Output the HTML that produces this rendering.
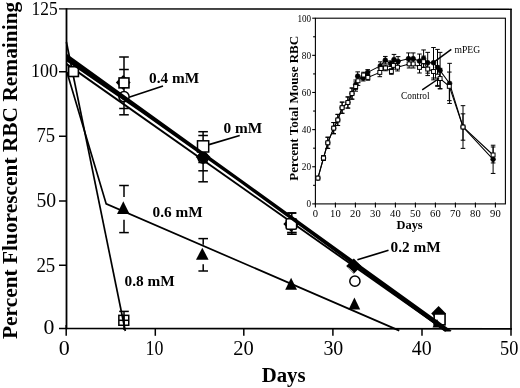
<!DOCTYPE html>
<html><head><meta charset="utf-8"><title>Percent Fluorescent RBC Remaining</title>
<style>html,body{margin:0;padding:0;background:#fff}body{width:520px;height:388px;overflow:hidden}svg{display:block;will-change:transform}text{font-family:"Liberation Serif","DejaVu Serif",serif;fill:#000}</style>
</head><body>
<svg width="520" height="388" viewBox="0 0 520 388">
<rect width="520" height="388" fill="#fff"/>
<g id="main-axes">
<line x1="66.50" y1="8.20" x2="66.50" y2="329.30" stroke="#000" stroke-width="1.8" />
<line x1="59.00" y1="8.80" x2="511.80" y2="9.30" stroke="#000" stroke-width="1.35" />
<line x1="511.00" y1="8.70" x2="511.00" y2="329.60" stroke="#000" stroke-width="1.6" />
<line x1="59.00" y1="328.50" x2="511.80" y2="328.90" stroke="#000" stroke-width="1.6" />
<text x="43.5" y="334.3" font-size="20" textLength="10.9" lengthAdjust="spacingAndGlyphs">0</text>
<line x1="59.00" y1="265.25" x2="66.40" y2="265.25" stroke="#000" stroke-width="1.5" />
<text x="36.4" y="271.6" font-size="20" textLength="18.9" lengthAdjust="spacingAndGlyphs">25</text>
<line x1="59.00" y1="201.00" x2="66.40" y2="201.00" stroke="#000" stroke-width="1.5" />
<text x="36.4" y="206.9" font-size="20.5" textLength="19.7" lengthAdjust="spacingAndGlyphs">50</text>
<line x1="59.00" y1="136.25" x2="66.40" y2="136.25" stroke="#000" stroke-width="1.5" />
<text x="36.4" y="142.4" font-size="20.5" textLength="18.7" lengthAdjust="spacingAndGlyphs">75</text>
<line x1="59.00" y1="71.75" x2="66.40" y2="71.75" stroke="#000" stroke-width="1.5" />
<text x="30.9" y="76.9" font-size="19.5" textLength="27.0" lengthAdjust="spacingAndGlyphs">100</text>
<text x="31.5" y="14.5" font-size="18.3" textLength="26.1" lengthAdjust="spacingAndGlyphs">125</text>
<line x1="66.20" y1="325.10" x2="66.20" y2="335.80" stroke="#000" stroke-width="1.5" />
<text x="58.8" y="354.9" font-size="20" textLength="11.0" lengthAdjust="spacingAndGlyphs">0</text>
<line x1="155.30" y1="328.60" x2="155.30" y2="335.80" stroke="#000" stroke-width="1.5" />
<text x="145.6" y="354.9" font-size="20" textLength="17.9" lengthAdjust="spacingAndGlyphs">10</text>
<line x1="243.80" y1="328.60" x2="243.80" y2="335.80" stroke="#000" stroke-width="1.5" />
<text x="233.2" y="354.9" font-size="20" textLength="20.5" lengthAdjust="spacingAndGlyphs">20</text>
<line x1="332.90" y1="328.60" x2="332.90" y2="335.80" stroke="#000" stroke-width="1.5" />
<text x="323.4" y="354.9" font-size="20" textLength="19.9" lengthAdjust="spacingAndGlyphs">30</text>
<line x1="422.00" y1="328.60" x2="422.00" y2="335.80" stroke="#000" stroke-width="1.5" />
<text x="411.7" y="354.9" font-size="20" textLength="19.9" lengthAdjust="spacingAndGlyphs">40</text>
<line x1="511.00" y1="328.60" x2="511.00" y2="335.80" stroke="#000" stroke-width="1.5" />
<text x="500.0" y="354.9" font-size="20" textLength="18.3" lengthAdjust="spacingAndGlyphs">50</text>
</g>
<text x="283.6" y="382.3" font-size="20.8" font-weight="bold" text-anchor="middle">Days</text>
<text transform="translate(17,170.4) rotate(-90)" font-size="21.4" font-weight="bold" text-anchor="middle">Percent Fluorescent RBC Remaining</text>
<g id="main-data">
<line x1="124.00" y1="57.00" x2="124.00" y2="114.80" stroke="#000" stroke-width="1.5" />
<line x1="119.20" y1="57.00" x2="128.80" y2="57.00" stroke="#000" stroke-width="1.5" />
<line x1="119.20" y1="114.80" x2="128.80" y2="114.80" stroke="#000" stroke-width="1.5" />
<line x1="119.20" y1="69.50" x2="128.80" y2="69.50" stroke="#000" stroke-width="1.5" />
<line x1="119.20" y1="108.50" x2="128.80" y2="108.50" stroke="#000" stroke-width="1.5" />
<line x1="203.10" y1="131.70" x2="203.10" y2="181.80" stroke="#000" stroke-width="1.5" />
<line x1="198.30" y1="131.70" x2="207.90" y2="131.70" stroke="#000" stroke-width="1.5" />
<line x1="198.30" y1="181.80" x2="207.90" y2="181.80" stroke="#000" stroke-width="1.5" />
<line x1="198.30" y1="135.50" x2="207.90" y2="135.50" stroke="#000" stroke-width="1.5" />
<line x1="198.30" y1="170.80" x2="207.90" y2="170.80" stroke="#000" stroke-width="1.5" />
<line x1="198.30" y1="162.50" x2="207.90" y2="162.50" stroke="#000" stroke-width="1.5" />
<line x1="291.80" y1="213.00" x2="291.80" y2="234.30" stroke="#000" stroke-width="1.5" />
<line x1="287.20" y1="213.00" x2="296.40" y2="213.00" stroke="#000" stroke-width="1.9" />
<line x1="287.10" y1="232.50" x2="296.70" y2="232.50" stroke="#000" stroke-width="1.6" />
<line x1="287.10" y1="234.20" x2="296.70" y2="234.20" stroke="#000" stroke-width="1.6" />
<line x1="124.00" y1="185.50" x2="124.00" y2="197.10" stroke="#000" stroke-width="1.5" />
<line x1="119.20" y1="185.50" x2="128.80" y2="185.50" stroke="#000" stroke-width="1.5" />
<line x1="124.00" y1="219.70" x2="124.00" y2="232.60" stroke="#000" stroke-width="1.5" />
<line x1="119.20" y1="232.60" x2="128.80" y2="232.60" stroke="#000" stroke-width="1.5" />
<line x1="203.20" y1="238.60" x2="203.20" y2="244.70" stroke="#000" stroke-width="1.5" />
<line x1="198.40" y1="238.60" x2="208.00" y2="238.60" stroke="#000" stroke-width="1.5" />
<line x1="203.20" y1="264.20" x2="203.20" y2="271.00" stroke="#000" stroke-width="1.5" />
<line x1="198.40" y1="271.00" x2="208.00" y2="271.00" stroke="#000" stroke-width="1.5" />
<line x1="124.00" y1="311.40" x2="124.00" y2="330.00" stroke="#000" stroke-width="1.5" />
<line x1="119.20" y1="311.40" x2="128.80" y2="311.40" stroke="#000" stroke-width="1.5" />
<line x1="66.40" y1="42.00" x2="125.30" y2="331.00" stroke="#000" stroke-width="1.7" />
<polyline points="66.9,72 106.2,203.9 399.3,330.6" fill="none" stroke="#000" stroke-width="1.7"/>
<circle cx="124.00" cy="96.70" r="5.1" fill="#fff" stroke="#000" stroke-width="1.5"/>
<circle cx="203.10" cy="158.00" r="5.1" fill="#fff" stroke="#000" stroke-width="1.5"/>
<circle cx="354.90" cy="281.20" r="5.1" fill="#fff" stroke="#000" stroke-width="1.5"/>
<line x1="66.40" y1="63.90" x2="446.00" y2="331.00" stroke="#000" stroke-width="1.9" />
<polygon points="123.20,75.10 130.60,82.50 123.20,89.90 115.80,82.50" fill="#000"/>
<polygon points="203.10,149.60 210.50,157.00 203.10,164.40 195.70,157.00" fill="#000"/>
<polygon points="291.20,216.20 299.10,224.10 291.20,232.00 283.30,224.10" fill="#000"/>
<polygon points="438.60,306.10 446.00,313.50 438.60,320.90 431.20,313.50" fill="#000"/>
<rect x="68.60" y="66.70" width="9.8" height="9.8" fill="#fff" stroke="#000" stroke-width="1.6"/>
<rect x="119.05" y="77.95" width="9.9" height="9.9" fill="#fff" stroke="#000" stroke-width="1.6"/>
<rect x="197.50" y="140.80" width="11.2" height="11.2" fill="#fff" stroke="#000" stroke-width="1.5"/>
<rect x="286.15" y="218.75" width="10.5" height="10.5" rx="1.6" fill="#fff" stroke="#000" stroke-width="1.6"/>
<rect x="434.15" y="313.95" width="10.9" height="10.9" fill="#fff" stroke="#000" stroke-width="1.6"/>
<polygon points="66.4,53.6 451.6,330.8 450.5,331.6 444.5,331.4 240,182.6 140,111.7 66.4,61.2" fill="#000"/>
<polygon points="353.80,258.50 361.40,266.10 353.80,273.70 346.20,266.10" fill="#000"/>
<line x1="348.3" y1="267.6" x2="353.6" y2="272.4" stroke="#fff" stroke-width="0.7"/>
<polygon points="123.30,201.30 117.00,214.10 129.60,214.10" fill="#000"/>
<polygon points="202.30,247.70 196.00,259.70 208.60,259.70" fill="#000"/>
<polygon points="291.10,277.70 285.20,289.70 297.00,289.70" fill="#000"/>
<polygon points="354.40,297.50 348.60,309.50 360.20,309.50" fill="#000"/>
<polygon points="437.00,319.00 432.50,327.50 441.50,327.50" fill="#000"/>
<rect x="118.85" y="315.35" width="9.9" height="9.9" fill="none" stroke="#000" stroke-width="1.5"/>
<line x1="118.85" y1="320.30" x2="128.75" y2="320.30" stroke="#000" stroke-width="1.5" />
<line x1="123.80" y1="315.35" x2="123.80" y2="325.25" stroke="#000" stroke-width="1.5" />
<text x="149" y="83" font-size="15.3" font-weight="bold">0.4 mM</text>
<line x1="129.00" y1="97.30" x2="163.00" y2="86.00" stroke="#000" stroke-width="1.7" />
<text x="223.5" y="133" font-size="15.3" font-weight="bold">0 mM</text>
<line x1="209.00" y1="144.60" x2="239.70" y2="135.50" stroke="#000" stroke-width="1.7" />
<text x="152.5" y="217" font-size="15.3" font-weight="bold">0.6 mM</text>
<text x="124.6" y="286.2" font-size="15.3" font-weight="bold">0.8 mM</text>
<text x="390.6" y="252" font-size="15.3" font-weight="bold">0.2 mM</text>
<line x1="357.40" y1="259.80" x2="388.50" y2="250.30" stroke="#000" stroke-width="1.7" />
</g>
<g id="inset">
<rect x="315.4" y="18.20" width="190.00" height="185.70" fill="#fff" stroke="#000" stroke-width="1.1"/>
<line x1="312.20" y1="203.90" x2="315.40" y2="203.90" stroke="#000" stroke-width="1.1" />
<text x="311.1" y="207.4" font-size="10.8" text-anchor="end" textLength="4.6" lengthAdjust="spacingAndGlyphs">0</text>
<line x1="313.10" y1="185.33" x2="315.40" y2="185.33" stroke="#000" stroke-width="1.1" />
<line x1="312.20" y1="166.76" x2="315.40" y2="166.76" stroke="#000" stroke-width="1.1" />
<text x="311.1" y="170.3" font-size="10.8" text-anchor="end" textLength="9.3" lengthAdjust="spacingAndGlyphs">20</text>
<line x1="313.10" y1="148.19" x2="315.40" y2="148.19" stroke="#000" stroke-width="1.1" />
<line x1="312.20" y1="129.62" x2="315.40" y2="129.62" stroke="#000" stroke-width="1.1" />
<text x="311.1" y="133.1" font-size="10.8" text-anchor="end" textLength="9.3" lengthAdjust="spacingAndGlyphs">40</text>
<line x1="313.10" y1="111.05" x2="315.40" y2="111.05" stroke="#000" stroke-width="1.1" />
<line x1="312.20" y1="92.48" x2="315.40" y2="92.48" stroke="#000" stroke-width="1.1" />
<text x="311.1" y="96.0" font-size="10.8" text-anchor="end" textLength="9.3" lengthAdjust="spacingAndGlyphs">60</text>
<line x1="313.10" y1="73.91" x2="315.40" y2="73.91" stroke="#000" stroke-width="1.1" />
<line x1="312.20" y1="55.34" x2="315.40" y2="55.34" stroke="#000" stroke-width="1.1" />
<text x="311.1" y="58.8" font-size="10.8" text-anchor="end" textLength="9.3" lengthAdjust="spacingAndGlyphs">80</text>
<line x1="313.10" y1="36.77" x2="315.40" y2="36.77" stroke="#000" stroke-width="1.1" />
<line x1="312.20" y1="18.20" x2="315.40" y2="18.20" stroke="#000" stroke-width="1.1" />
<text x="311.1" y="21.7" font-size="10.8" text-anchor="end" textLength="13.7" lengthAdjust="spacingAndGlyphs">100</text>
<line x1="315.40" y1="202.40" x2="315.40" y2="207.40" stroke="#000" stroke-width="1.1" />
<text x="315.4" y="217.4" font-size="10.6" text-anchor="middle">0</text>
<line x1="335.40" y1="202.40" x2="335.40" y2="207.40" stroke="#000" stroke-width="1.1" />
<text x="335.4" y="217.4" font-size="10.6" text-anchor="middle">10</text>
<line x1="355.40" y1="202.40" x2="355.40" y2="207.40" stroke="#000" stroke-width="1.1" />
<text x="355.4" y="217.4" font-size="10.6" text-anchor="middle">20</text>
<line x1="375.40" y1="202.40" x2="375.40" y2="207.40" stroke="#000" stroke-width="1.1" />
<text x="375.4" y="217.4" font-size="10.6" text-anchor="middle">30</text>
<line x1="395.40" y1="202.40" x2="395.40" y2="207.40" stroke="#000" stroke-width="1.1" />
<text x="395.4" y="217.4" font-size="10.6" text-anchor="middle">40</text>
<line x1="415.40" y1="202.40" x2="415.40" y2="207.40" stroke="#000" stroke-width="1.1" />
<text x="415.4" y="217.4" font-size="10.6" text-anchor="middle">50</text>
<line x1="435.40" y1="202.40" x2="435.40" y2="207.40" stroke="#000" stroke-width="1.1" />
<text x="435.4" y="217.4" font-size="10.6" text-anchor="middle">60</text>
<line x1="455.40" y1="202.40" x2="455.40" y2="207.40" stroke="#000" stroke-width="1.1" />
<text x="455.4" y="217.4" font-size="10.6" text-anchor="middle">70</text>
<line x1="475.40" y1="202.40" x2="475.40" y2="207.40" stroke="#000" stroke-width="1.1" />
<text x="475.4" y="217.4" font-size="10.6" text-anchor="middle">80</text>
<line x1="495.40" y1="202.40" x2="495.40" y2="207.40" stroke="#000" stroke-width="1.1" />
<text x="495.4" y="217.4" font-size="10.6" text-anchor="middle">90</text>
<text x="409.6" y="229.3" font-size="12.4" font-weight="bold" text-anchor="middle">Days</text>
<text transform="translate(297.6,108.3) rotate(-90)" font-size="13.05" font-weight="bold" text-anchor="middle">Percent Total Mouse RBC</text>
<line x1="323.50" y1="155.80" x2="323.50" y2="160.26" stroke="#000" stroke-width="1.0" />
<line x1="321.20" y1="155.80" x2="325.80" y2="155.80" stroke="#000" stroke-width="1.0" />
<line x1="321.20" y1="160.26" x2="325.80" y2="160.26" stroke="#000" stroke-width="1.0" />
<line x1="327.80" y1="137.23" x2="327.80" y2="148.38" stroke="#000" stroke-width="1.0" />
<line x1="325.50" y1="137.23" x2="330.10" y2="137.23" stroke="#000" stroke-width="1.0" />
<line x1="325.50" y1="148.38" x2="330.10" y2="148.38" stroke="#000" stroke-width="1.0" />
<line x1="333.70" y1="122.56" x2="333.70" y2="133.71" stroke="#000" stroke-width="1.0" />
<line x1="331.40" y1="122.56" x2="336.00" y2="122.56" stroke="#000" stroke-width="1.0" />
<line x1="331.40" y1="133.71" x2="336.00" y2="133.71" stroke="#000" stroke-width="1.0" />
<line x1="337.80" y1="114.39" x2="337.80" y2="125.53" stroke="#000" stroke-width="1.0" />
<line x1="335.50" y1="114.39" x2="340.10" y2="114.39" stroke="#000" stroke-width="1.0" />
<line x1="335.50" y1="125.53" x2="340.10" y2="125.53" stroke="#000" stroke-width="1.0" />
<line x1="342.10" y1="102.14" x2="342.10" y2="113.28" stroke="#000" stroke-width="1.0" />
<line x1="339.80" y1="102.14" x2="344.40" y2="102.14" stroke="#000" stroke-width="1.0" />
<line x1="339.80" y1="113.28" x2="344.40" y2="113.28" stroke="#000" stroke-width="1.0" />
<line x1="347.90" y1="96.94" x2="347.90" y2="108.08" stroke="#000" stroke-width="1.0" />
<line x1="345.60" y1="96.94" x2="350.20" y2="96.94" stroke="#000" stroke-width="1.0" />
<line x1="345.60" y1="108.08" x2="350.20" y2="108.08" stroke="#000" stroke-width="1.0" />
<line x1="352.00" y1="88.02" x2="352.00" y2="99.17" stroke="#000" stroke-width="1.0" />
<line x1="349.70" y1="88.02" x2="354.30" y2="88.02" stroke="#000" stroke-width="1.0" />
<line x1="349.70" y1="99.17" x2="354.30" y2="99.17" stroke="#000" stroke-width="1.0" />
<line x1="355.70" y1="81.90" x2="355.70" y2="91.18" stroke="#000" stroke-width="1.0" />
<line x1="353.40" y1="81.90" x2="358.00" y2="81.90" stroke="#000" stroke-width="1.0" />
<line x1="353.40" y1="91.18" x2="358.00" y2="91.18" stroke="#000" stroke-width="1.0" />
<line x1="358.00" y1="76.14" x2="358.00" y2="85.42" stroke="#000" stroke-width="1.0" />
<line x1="355.70" y1="76.14" x2="360.30" y2="76.14" stroke="#000" stroke-width="1.0" />
<line x1="355.70" y1="85.42" x2="360.30" y2="85.42" stroke="#000" stroke-width="1.0" />
<line x1="363.60" y1="72.24" x2="363.60" y2="77.81" stroke="#000" stroke-width="1.0" />
<line x1="361.30" y1="72.24" x2="365.90" y2="72.24" stroke="#000" stroke-width="1.0" />
<line x1="361.30" y1="77.81" x2="365.90" y2="77.81" stroke="#000" stroke-width="1.0" />
<line x1="367.90" y1="74.65" x2="367.90" y2="80.22" stroke="#000" stroke-width="1.0" />
<line x1="365.60" y1="74.65" x2="370.20" y2="74.65" stroke="#000" stroke-width="1.0" />
<line x1="365.60" y1="80.22" x2="370.20" y2="80.22" stroke="#000" stroke-width="1.0" />
<line x1="379.80" y1="68.15" x2="379.80" y2="76.70" stroke="#000" stroke-width="1.0" />
<line x1="377.50" y1="68.15" x2="382.10" y2="68.15" stroke="#000" stroke-width="1.0" />
<line x1="377.50" y1="76.70" x2="382.10" y2="76.70" stroke="#000" stroke-width="1.0" />
<line x1="385.50" y1="65.18" x2="385.50" y2="70.75" stroke="#000" stroke-width="1.0" />
<line x1="383.20" y1="65.18" x2="387.80" y2="65.18" stroke="#000" stroke-width="1.0" />
<line x1="383.20" y1="70.75" x2="387.80" y2="70.75" stroke="#000" stroke-width="1.0" />
<line x1="391.40" y1="68.71" x2="391.40" y2="74.28" stroke="#000" stroke-width="1.0" />
<line x1="389.10" y1="68.71" x2="393.70" y2="68.71" stroke="#000" stroke-width="1.0" />
<line x1="389.10" y1="74.28" x2="393.70" y2="74.28" stroke="#000" stroke-width="1.0" />
<line x1="393.40" y1="61.65" x2="393.40" y2="69.08" stroke="#000" stroke-width="1.0" />
<line x1="391.10" y1="61.65" x2="395.70" y2="61.65" stroke="#000" stroke-width="1.0" />
<line x1="391.10" y1="69.08" x2="395.70" y2="69.08" stroke="#000" stroke-width="1.0" />
<line x1="397.50" y1="63.51" x2="397.50" y2="70.94" stroke="#000" stroke-width="1.0" />
<line x1="395.20" y1="63.51" x2="399.80" y2="63.51" stroke="#000" stroke-width="1.0" />
<line x1="395.20" y1="70.94" x2="399.80" y2="70.94" stroke="#000" stroke-width="1.0" />
<line x1="409.10" y1="59.80" x2="409.10" y2="67.97" stroke="#000" stroke-width="1.0" />
<line x1="406.80" y1="59.80" x2="411.40" y2="59.80" stroke="#000" stroke-width="1.0" />
<line x1="406.80" y1="67.97" x2="411.40" y2="67.97" stroke="#000" stroke-width="1.0" />
<line x1="413.20" y1="59.80" x2="413.20" y2="67.97" stroke="#000" stroke-width="1.0" />
<line x1="410.90" y1="59.80" x2="415.50" y2="59.80" stroke="#000" stroke-width="1.0" />
<line x1="410.90" y1="67.97" x2="415.50" y2="67.97" stroke="#000" stroke-width="1.0" />
<line x1="419.50" y1="61.84" x2="419.50" y2="72.98" stroke="#000" stroke-width="1.0" />
<line x1="417.20" y1="61.84" x2="421.80" y2="61.84" stroke="#000" stroke-width="1.0" />
<line x1="417.20" y1="72.98" x2="421.80" y2="72.98" stroke="#000" stroke-width="1.0" />
<line x1="423.60" y1="56.08" x2="423.60" y2="67.22" stroke="#000" stroke-width="1.0" />
<line x1="421.30" y1="56.08" x2="425.90" y2="56.08" stroke="#000" stroke-width="1.0" />
<line x1="421.30" y1="67.22" x2="425.90" y2="67.22" stroke="#000" stroke-width="1.0" />
<line x1="427.70" y1="62.58" x2="427.70" y2="75.58" stroke="#000" stroke-width="1.0" />
<line x1="425.40" y1="62.58" x2="430.00" y2="62.58" stroke="#000" stroke-width="1.0" />
<line x1="425.40" y1="75.58" x2="430.00" y2="75.58" stroke="#000" stroke-width="1.0" />
<line x1="433.50" y1="63.14" x2="433.50" y2="79.85" stroke="#000" stroke-width="1.0" />
<line x1="431.20" y1="63.14" x2="435.80" y2="63.14" stroke="#000" stroke-width="1.0" />
<line x1="431.20" y1="79.85" x2="435.80" y2="79.85" stroke="#000" stroke-width="1.0" />
<line x1="437.50" y1="65.92" x2="437.50" y2="86.35" stroke="#000" stroke-width="1.0" />
<line x1="435.20" y1="65.92" x2="439.80" y2="65.92" stroke="#000" stroke-width="1.0" />
<line x1="435.20" y1="86.35" x2="439.80" y2="86.35" stroke="#000" stroke-width="1.0" />
<line x1="440.10" y1="68.34" x2="440.10" y2="88.77" stroke="#000" stroke-width="1.0" />
<line x1="437.80" y1="68.34" x2="442.40" y2="68.34" stroke="#000" stroke-width="1.0" />
<line x1="437.80" y1="88.77" x2="442.40" y2="88.77" stroke="#000" stroke-width="1.0" />
<line x1="449.30" y1="72.05" x2="449.30" y2="100.65" stroke="#000" stroke-width="1.0" />
<line x1="447.00" y1="72.05" x2="451.60" y2="72.05" stroke="#000" stroke-width="1.0" />
<line x1="447.00" y1="100.65" x2="451.60" y2="100.65" stroke="#000" stroke-width="1.0" />
<line x1="463.00" y1="113.84" x2="463.00" y2="140.20" stroke="#000" stroke-width="1.0" />
<line x1="460.70" y1="113.84" x2="465.30" y2="113.84" stroke="#000" stroke-width="1.0" />
<line x1="460.70" y1="140.20" x2="465.30" y2="140.20" stroke="#000" stroke-width="1.0" />
<line x1="493.10" y1="146.98" x2="493.10" y2="162.95" stroke="#000" stroke-width="1.0" />
<line x1="490.80" y1="146.98" x2="495.40" y2="146.98" stroke="#000" stroke-width="1.0" />
<line x1="490.80" y1="162.95" x2="495.40" y2="162.95" stroke="#000" stroke-width="1.0" />
<line x1="323.50" y1="155.80" x2="323.50" y2="160.26" stroke="#000" stroke-width="1.0" />
<line x1="321.20" y1="155.80" x2="325.80" y2="155.80" stroke="#000" stroke-width="1.0" />
<line x1="321.20" y1="160.26" x2="325.80" y2="160.26" stroke="#000" stroke-width="1.0" />
<line x1="327.80" y1="137.23" x2="327.80" y2="148.38" stroke="#000" stroke-width="1.0" />
<line x1="325.50" y1="137.23" x2="330.10" y2="137.23" stroke="#000" stroke-width="1.0" />
<line x1="325.50" y1="148.38" x2="330.10" y2="148.38" stroke="#000" stroke-width="1.0" />
<line x1="333.70" y1="122.56" x2="333.70" y2="133.71" stroke="#000" stroke-width="1.0" />
<line x1="331.40" y1="122.56" x2="336.00" y2="122.56" stroke="#000" stroke-width="1.0" />
<line x1="331.40" y1="133.71" x2="336.00" y2="133.71" stroke="#000" stroke-width="1.0" />
<line x1="337.80" y1="114.39" x2="337.80" y2="125.53" stroke="#000" stroke-width="1.0" />
<line x1="335.50" y1="114.39" x2="340.10" y2="114.39" stroke="#000" stroke-width="1.0" />
<line x1="335.50" y1="125.53" x2="340.10" y2="125.53" stroke="#000" stroke-width="1.0" />
<line x1="342.10" y1="102.14" x2="342.10" y2="113.28" stroke="#000" stroke-width="1.0" />
<line x1="339.80" y1="102.14" x2="344.40" y2="102.14" stroke="#000" stroke-width="1.0" />
<line x1="339.80" y1="113.28" x2="344.40" y2="113.28" stroke="#000" stroke-width="1.0" />
<line x1="347.90" y1="96.94" x2="347.90" y2="108.08" stroke="#000" stroke-width="1.0" />
<line x1="345.60" y1="96.94" x2="350.20" y2="96.94" stroke="#000" stroke-width="1.0" />
<line x1="345.60" y1="108.08" x2="350.20" y2="108.08" stroke="#000" stroke-width="1.0" />
<line x1="352.00" y1="88.02" x2="352.00" y2="99.17" stroke="#000" stroke-width="1.0" />
<line x1="349.70" y1="88.02" x2="354.30" y2="88.02" stroke="#000" stroke-width="1.0" />
<line x1="349.70" y1="99.17" x2="354.30" y2="99.17" stroke="#000" stroke-width="1.0" />
<line x1="355.70" y1="80.04" x2="355.70" y2="89.32" stroke="#000" stroke-width="1.0" />
<line x1="353.40" y1="80.04" x2="358.00" y2="80.04" stroke="#000" stroke-width="1.0" />
<line x1="353.40" y1="89.32" x2="358.00" y2="89.32" stroke="#000" stroke-width="1.0" />
<line x1="357.70" y1="71.87" x2="357.70" y2="80.41" stroke="#000" stroke-width="1.0" />
<line x1="355.40" y1="71.87" x2="360.00" y2="71.87" stroke="#000" stroke-width="1.0" />
<line x1="355.40" y1="80.41" x2="360.00" y2="80.41" stroke="#000" stroke-width="1.0" />
<line x1="363.20" y1="75.40" x2="363.20" y2="80.97" stroke="#000" stroke-width="1.0" />
<line x1="360.90" y1="75.40" x2="365.50" y2="75.40" stroke="#000" stroke-width="1.0" />
<line x1="360.90" y1="80.97" x2="365.50" y2="80.97" stroke="#000" stroke-width="1.0" />
<line x1="367.70" y1="69.64" x2="367.70" y2="75.21" stroke="#000" stroke-width="1.0" />
<line x1="365.40" y1="69.64" x2="370.00" y2="69.64" stroke="#000" stroke-width="1.0" />
<line x1="365.40" y1="75.21" x2="370.00" y2="75.21" stroke="#000" stroke-width="1.0" />
<line x1="380.30" y1="61.84" x2="380.30" y2="70.01" stroke="#000" stroke-width="1.0" />
<line x1="378.00" y1="61.84" x2="382.60" y2="61.84" stroke="#000" stroke-width="1.0" />
<line x1="378.00" y1="70.01" x2="382.60" y2="70.01" stroke="#000" stroke-width="1.0" />
<line x1="385.30" y1="56.45" x2="385.30" y2="63.88" stroke="#000" stroke-width="1.0" />
<line x1="383.00" y1="56.45" x2="387.60" y2="56.45" stroke="#000" stroke-width="1.0" />
<line x1="383.00" y1="63.88" x2="387.60" y2="63.88" stroke="#000" stroke-width="1.0" />
<line x1="390.60" y1="60.91" x2="390.60" y2="66.48" stroke="#000" stroke-width="1.0" />
<line x1="388.30" y1="60.91" x2="392.90" y2="60.91" stroke="#000" stroke-width="1.0" />
<line x1="388.30" y1="66.48" x2="392.90" y2="66.48" stroke="#000" stroke-width="1.0" />
<line x1="394.00" y1="54.41" x2="394.00" y2="64.81" stroke="#000" stroke-width="1.0" />
<line x1="391.70" y1="54.41" x2="396.30" y2="54.41" stroke="#000" stroke-width="1.0" />
<line x1="391.70" y1="64.81" x2="396.30" y2="64.81" stroke="#000" stroke-width="1.0" />
<line x1="398.10" y1="56.64" x2="398.10" y2="65.92" stroke="#000" stroke-width="1.0" />
<line x1="395.80" y1="56.64" x2="400.40" y2="56.64" stroke="#000" stroke-width="1.0" />
<line x1="395.80" y1="65.92" x2="400.40" y2="65.92" stroke="#000" stroke-width="1.0" />
<line x1="408.50" y1="52.93" x2="408.50" y2="64.44" stroke="#000" stroke-width="1.0" />
<line x1="406.20" y1="52.93" x2="410.80" y2="52.93" stroke="#000" stroke-width="1.0" />
<line x1="406.20" y1="64.44" x2="410.80" y2="64.44" stroke="#000" stroke-width="1.0" />
<line x1="413.20" y1="52.93" x2="413.20" y2="64.44" stroke="#000" stroke-width="1.0" />
<line x1="410.90" y1="52.93" x2="415.50" y2="52.93" stroke="#000" stroke-width="1.0" />
<line x1="410.90" y1="64.44" x2="415.50" y2="64.44" stroke="#000" stroke-width="1.0" />
<line x1="419.50" y1="54.04" x2="419.50" y2="68.15" stroke="#000" stroke-width="1.0" />
<line x1="417.20" y1="54.04" x2="421.80" y2="54.04" stroke="#000" stroke-width="1.0" />
<line x1="417.20" y1="68.15" x2="421.80" y2="68.15" stroke="#000" stroke-width="1.0" />
<line x1="423.60" y1="49.95" x2="423.60" y2="67.41" stroke="#000" stroke-width="1.0" />
<line x1="421.30" y1="49.95" x2="425.90" y2="49.95" stroke="#000" stroke-width="1.0" />
<line x1="421.30" y1="67.41" x2="425.90" y2="67.41" stroke="#000" stroke-width="1.0" />
<line x1="427.70" y1="52.37" x2="427.70" y2="73.17" stroke="#000" stroke-width="1.0" />
<line x1="425.40" y1="52.37" x2="430.00" y2="52.37" stroke="#000" stroke-width="1.0" />
<line x1="425.40" y1="73.17" x2="430.00" y2="73.17" stroke="#000" stroke-width="1.0" />
<line x1="433.50" y1="47.54" x2="433.50" y2="78.00" stroke="#000" stroke-width="1.0" />
<line x1="431.20" y1="47.54" x2="435.80" y2="47.54" stroke="#000" stroke-width="1.0" />
<line x1="431.20" y1="78.00" x2="435.80" y2="78.00" stroke="#000" stroke-width="1.0" />
<line x1="437.50" y1="49.40" x2="437.50" y2="85.42" stroke="#000" stroke-width="1.0" />
<line x1="435.20" y1="49.40" x2="439.80" y2="49.40" stroke="#000" stroke-width="1.0" />
<line x1="435.20" y1="85.42" x2="439.80" y2="85.42" stroke="#000" stroke-width="1.0" />
<line x1="440.10" y1="52.37" x2="440.10" y2="88.77" stroke="#000" stroke-width="1.0" />
<line x1="437.80" y1="52.37" x2="442.40" y2="52.37" stroke="#000" stroke-width="1.0" />
<line x1="437.80" y1="88.77" x2="442.40" y2="88.77" stroke="#000" stroke-width="1.0" />
<line x1="449.60" y1="63.33" x2="449.60" y2="103.44" stroke="#000" stroke-width="1.0" />
<line x1="447.30" y1="63.33" x2="451.90" y2="63.33" stroke="#000" stroke-width="1.0" />
<line x1="447.30" y1="103.44" x2="451.90" y2="103.44" stroke="#000" stroke-width="1.0" />
<line x1="463.00" y1="105.66" x2="463.00" y2="148.38" stroke="#000" stroke-width="1.0" />
<line x1="460.70" y1="105.66" x2="465.30" y2="105.66" stroke="#000" stroke-width="1.0" />
<line x1="460.70" y1="148.38" x2="465.30" y2="148.38" stroke="#000" stroke-width="1.0" />
<line x1="493.10" y1="145.22" x2="493.10" y2="173.45" stroke="#000" stroke-width="1.0" />
<line x1="490.80" y1="145.22" x2="495.40" y2="145.22" stroke="#000" stroke-width="1.0" />
<line x1="490.80" y1="173.45" x2="495.40" y2="173.45" stroke="#000" stroke-width="1.0" />
<polyline fill="none" stroke="#000" stroke-width="1.05" points="317.9,178.1 323.5,158.0 327.8,142.8 333.7,128.1 337.8,120.0 342.1,107.7 347.9,102.5 352.0,93.6 355.7,84.7 357.7,76.1 363.2,78.2 367.7,72.4 380.3,65.9 385.3,60.2 390.6,63.7 394.0,59.6 398.1,61.3 408.5,58.7 413.2,58.7 419.5,61.1 423.6,58.7 427.7,62.8 433.5,62.8 437.5,67.4 440.1,70.6 449.6,83.4 463.0,127.0 493.1,159.3"/>
<polyline fill="none" stroke="#000" stroke-width="1.05" points="317.9,178.1 323.5,158.0 327.8,142.8 333.7,128.1 337.8,120.0 342.1,107.7 347.9,102.5 352.0,93.6 355.7,86.5 358.0,80.8 363.6,75.0 367.9,77.4 379.8,72.4 381.0,68.5 385.5,68.0 391.4,71.5 393.4,65.4 397.5,67.2 409.1,63.9 413.2,63.9 419.5,67.4 423.6,61.7 427.7,69.1 433.5,71.5 437.5,76.1 440.1,78.6 449.3,86.4 463.0,127.0 493.1,155.0"/>
<circle cx="317.90" cy="178.09" r="2.4" fill="#000" stroke="#000" stroke-width="0.6"/>
<circle cx="323.50" cy="158.03" r="2.4" fill="#000" stroke="#000" stroke-width="0.6"/>
<circle cx="327.80" cy="142.80" r="2.4" fill="#000" stroke="#000" stroke-width="0.6"/>
<circle cx="333.70" cy="128.13" r="2.4" fill="#000" stroke="#000" stroke-width="0.6"/>
<circle cx="337.80" cy="119.96" r="2.4" fill="#000" stroke="#000" stroke-width="0.6"/>
<circle cx="342.10" cy="107.71" r="2.4" fill="#000" stroke="#000" stroke-width="0.6"/>
<circle cx="347.90" cy="102.51" r="2.4" fill="#000" stroke="#000" stroke-width="0.6"/>
<circle cx="352.00" cy="93.59" r="2.4" fill="#000" stroke="#000" stroke-width="0.6"/>
<circle cx="355.70" cy="84.68" r="2.4" fill="#000" stroke="#000" stroke-width="0.6"/>
<circle cx="357.70" cy="76.14" r="2.4" fill="#000" stroke="#000" stroke-width="0.6"/>
<circle cx="363.20" cy="78.18" r="2.4" fill="#000" stroke="#000" stroke-width="0.6"/>
<circle cx="367.70" cy="72.42" r="2.4" fill="#000" stroke="#000" stroke-width="0.6"/>
<circle cx="380.30" cy="65.92" r="2.4" fill="#000" stroke="#000" stroke-width="0.6"/>
<circle cx="385.30" cy="60.17" r="2.4" fill="#000" stroke="#000" stroke-width="0.6"/>
<circle cx="390.60" cy="63.70" r="2.4" fill="#000" stroke="#000" stroke-width="0.6"/>
<circle cx="394.00" cy="59.61" r="2.4" fill="#000" stroke="#000" stroke-width="0.6"/>
<circle cx="398.10" cy="61.28" r="2.4" fill="#000" stroke="#000" stroke-width="0.6"/>
<circle cx="408.50" cy="58.68" r="2.4" fill="#000" stroke="#000" stroke-width="0.6"/>
<circle cx="413.20" cy="58.68" r="2.4" fill="#000" stroke="#000" stroke-width="0.6"/>
<circle cx="419.50" cy="61.10" r="2.4" fill="#000" stroke="#000" stroke-width="0.6"/>
<circle cx="423.60" cy="58.68" r="2.4" fill="#000" stroke="#000" stroke-width="0.6"/>
<circle cx="427.70" cy="62.77" r="2.4" fill="#000" stroke="#000" stroke-width="0.6"/>
<circle cx="433.50" cy="62.77" r="2.4" fill="#000" stroke="#000" stroke-width="0.6"/>
<circle cx="437.50" cy="67.41" r="2.4" fill="#000" stroke="#000" stroke-width="0.6"/>
<circle cx="440.10" cy="70.57" r="2.4" fill="#000" stroke="#000" stroke-width="0.6"/>
<circle cx="449.60" cy="83.38" r="2.4" fill="#000" stroke="#000" stroke-width="0.6"/>
<circle cx="463.00" cy="127.02" r="2.4" fill="#000" stroke="#000" stroke-width="0.6"/>
<circle cx="493.10" cy="159.33" r="2.4" fill="#000" stroke="#000" stroke-width="0.6"/>
<rect x="315.95" y="176.14" width="3.9" height="3.9" fill="#fff" stroke="#000" stroke-width="1.0"/>
<rect x="321.55" y="156.08" width="3.9" height="3.9" fill="#fff" stroke="#000" stroke-width="1.0"/>
<rect x="325.85" y="140.85" width="3.9" height="3.9" fill="#fff" stroke="#000" stroke-width="1.0"/>
<rect x="331.75" y="126.18" width="3.9" height="3.9" fill="#fff" stroke="#000" stroke-width="1.0"/>
<rect x="335.85" y="118.01" width="3.9" height="3.9" fill="#fff" stroke="#000" stroke-width="1.0"/>
<rect x="340.15" y="105.76" width="3.9" height="3.9" fill="#fff" stroke="#000" stroke-width="1.0"/>
<rect x="345.95" y="100.56" width="3.9" height="3.9" fill="#fff" stroke="#000" stroke-width="1.0"/>
<rect x="350.05" y="91.64" width="3.9" height="3.9" fill="#fff" stroke="#000" stroke-width="1.0"/>
<rect x="353.75" y="84.59" width="3.9" height="3.9" fill="#fff" stroke="#000" stroke-width="1.0"/>
<rect x="356.05" y="78.83" width="3.9" height="3.9" fill="#fff" stroke="#000" stroke-width="1.0"/>
<rect x="361.65" y="73.07" width="3.9" height="3.9" fill="#fff" stroke="#000" stroke-width="1.0"/>
<rect x="365.95" y="75.49" width="3.9" height="3.9" fill="#fff" stroke="#000" stroke-width="1.0"/>
<rect x="377.85" y="70.47" width="3.9" height="3.9" fill="#fff" stroke="#000" stroke-width="1.0"/>
<rect x="379.05" y="66.57" width="3.9" height="3.9" fill="#fff" stroke="#000" stroke-width="1.0"/>
<rect x="383.55" y="66.02" width="3.9" height="3.9" fill="#fff" stroke="#000" stroke-width="1.0"/>
<rect x="389.45" y="69.55" width="3.9" height="3.9" fill="#fff" stroke="#000" stroke-width="1.0"/>
<rect x="391.45" y="63.42" width="3.9" height="3.9" fill="#fff" stroke="#000" stroke-width="1.0"/>
<rect x="395.55" y="65.27" width="3.9" height="3.9" fill="#fff" stroke="#000" stroke-width="1.0"/>
<rect x="407.15" y="61.93" width="3.9" height="3.9" fill="#fff" stroke="#000" stroke-width="1.0"/>
<rect x="411.25" y="61.93" width="3.9" height="3.9" fill="#fff" stroke="#000" stroke-width="1.0"/>
<rect x="417.55" y="65.46" width="3.9" height="3.9" fill="#fff" stroke="#000" stroke-width="1.0"/>
<rect x="421.65" y="59.70" width="3.9" height="3.9" fill="#fff" stroke="#000" stroke-width="1.0"/>
<rect x="425.75" y="67.13" width="3.9" height="3.9" fill="#fff" stroke="#000" stroke-width="1.0"/>
<rect x="431.55" y="69.55" width="3.9" height="3.9" fill="#fff" stroke="#000" stroke-width="1.0"/>
<rect x="435.55" y="74.19" width="3.9" height="3.9" fill="#fff" stroke="#000" stroke-width="1.0"/>
<rect x="438.15" y="76.60" width="3.9" height="3.9" fill="#fff" stroke="#000" stroke-width="1.0"/>
<rect x="447.35" y="84.40" width="3.9" height="3.9" fill="#fff" stroke="#000" stroke-width="1.0"/>
<rect x="461.05" y="125.07" width="3.9" height="3.9" fill="#fff" stroke="#000" stroke-width="1.0"/>
<rect x="491.15" y="153.02" width="3.9" height="3.9" fill="#fff" stroke="#000" stroke-width="1.0"/>
<text x="454.5" y="52.8" font-size="9.6">mPEG</text>
<line x1="451.30" y1="49.30" x2="432.90" y2="62.90" stroke="#000" stroke-width="1.5" />
<text x="401" y="99.2" font-size="9.35">Control</text>
<line x1="422.20" y1="89.80" x2="439.00" y2="78.50" stroke="#000" stroke-width="1.5" />
</g>
</svg>
</body></html>
